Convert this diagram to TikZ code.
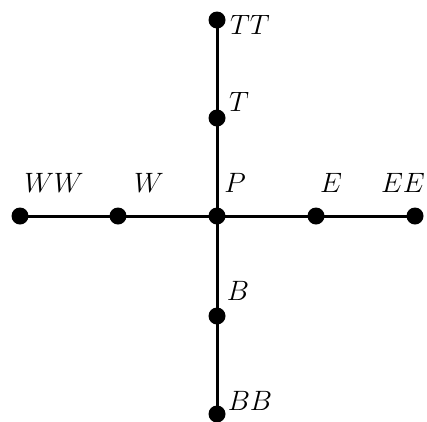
\documentclass[tikz,border=0pt]{standalone}
\usepackage{fix-cm}
\begin{document}
\begin{tikzpicture}[x=1pt,y=-1pt,
  dot/.style={circle,fill=black,inner sep=0pt,minimum size=17pt},
  lbl/.style={inner sep=0pt,font=\fontsize{28}{32}\selectfont},
  conn/.style={line width=3pt}]
\useasboundingbox (0,0) rectangle (427,421);
\node[dot] (TT) at (217,20) {};
\node[dot] (T) at (217,118) {};
\node[dot] (P) at (217,216) {};
\node[dot] (B) at (217,316) {};
\node[dot] (BB) at (217,414) {};
\node[dot] (WW) at (20,216) {};
\node[dot] (W) at (118,216) {};
\node[dot] (E) at (316,216) {};
\node[dot] (EE) at (415,216) {};
\draw[conn] (TT.center) -- (T.center) -- (P.center) -- (B.center) -- (BB.center);
\draw[conn] (WW.center) -- (W.center) -- (P.center) -- (E.center) -- (EE.center);
\node[lbl] (lTT) at (250,25) {$TT$};
\node[lbl] (lT) at (239,102) {$T$};
\node[lbl] (lP) at (235,183) {$P$};
\node[lbl] (lWW) at (54,183) {$WW$};
\node[lbl] (lW) at (149,183) {$W$};
\node[lbl] (lE) at (331,183) {$E$};
\node[lbl] (lEE) at (403,183) {$EE$};
\node[lbl] (lB) at (238,291) {$B$};
\node[lbl] (lBB) at (250,401) {$BB$};
\end{tikzpicture}
\end{document}
